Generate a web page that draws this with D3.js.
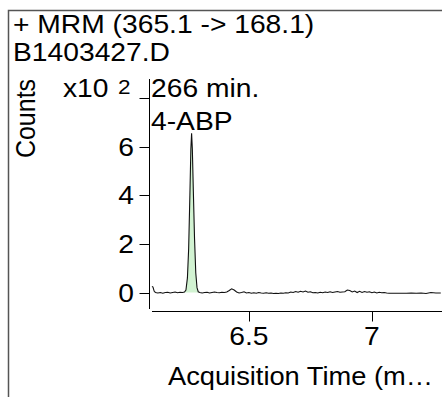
<!DOCTYPE html>
<html><head><meta charset="utf-8">
<script src="https://cdn.jsdelivr.net/npm/d3@7"></script>
<style>html,body{margin:0;padding:0;background:#fff;overflow:hidden}</style>
</head><body>
<svg id="c" width="442" height="397"></svg>
<script>
const titleLines = ["+ MRM (365.1 -> 168.1)", "B1403427.D"];
const peakLabels = ["266 min.", "4-ABP"];
const yAxisTitle = "Counts";
const xAxisTitle = "Acquisition Time (m\u2026";
const yTicks = [0, 2, 4, 6, 8];
const yTickLabels = ["0", "2", "4", "6", ""];
const xTicks = [6.5, 7];
const xTickLabels = ["6.5", "7"];
const times = [6.106,6.110,6.115,6.120,6.130,6.140,6.150,6.160,6.170,6.180,6.190,6.200,6.210,6.220,6.230,6.238,6.244,6.250,6.255,6.260,6.264,6.267,6.270,6.274,6.279,6.284,6.289,6.294,6.300,6.31,6.32,6.33,6.34,6.35,6.36,6.37,6.38,6.39,6.40,6.41,6.42,6.43,6.44,6.45,6.46,6.47,6.48,6.49,6.50,6.51,6.52,6.53,6.54,6.55,6.56,6.57,6.58,6.59,6.60,6.61,6.62,6.63,6.64,6.65,6.66,6.67,6.68,6.69,6.70,6.71,6.72,6.73,6.74,6.75,6.76,6.77,6.78,6.79,6.80,6.81,6.82,6.83,6.84,6.85,6.86,6.87,6.88,6.89,6.90,6.91,6.92,6.93,6.94,6.95,6.96,6.97,6.98,6.99,7.00,7.01,7.02,7.03,7.04,7.05,7.06,7.07,7.08,7.10,7.12,7.14,7.16,7.18,7.20,7.22,7.24,7.26,7.28];
const counts = [0.25,0.22,0.05,0.0,-0.02,0.0,-0.03,0.0,0.01,-0.02,0.0,0.02,-0.01,0.01,0.0,0.02,0.1,0.6,1.8,4.0,5.9,6.55,5.9,4.2,2.2,0.8,0.2,0.03,0.0,-0.02,0.0,0.01,-0.02,0.0,0.02,0.0,-0.01,0.01,0.0,0.02,0.08,0.15,0.1,0.02,-0.02,0.0,0.03,-0.02,0.0,-0.03,-0.01,-0.03,0.0,-0.02,-0.03,-0.01,-0.03,-0.02,-0.04,-0.03,-0.04,-0.02,-0.03,-0.01,-0.02,0.02,0.0,0.04,0.01,0.05,0.02,0.06,0.01,0.03,-0.01,0.0,-0.02,0.01,-0.01,0.02,0.0,0.03,0.0,0.02,0.04,0.01,0.02,0.03,0.1,0.08,0.02,0.06,0.0,0.05,0.0,0.04,0.01,0.03,-0.01,0.02,-0.02,0.01,-0.01,0.0,-0.02,-0.03,-0.03,-0.03,-0.03,-0.03,-0.02,-0.03,-0.02,-0.04,0.0,-0.02,-0.02];
const peakStart = 6.238, peakEnd = 6.294;

const FONT = "'Liberation Sans', Arial, sans-serif";
const SX = 1.13;
const svg = d3.select("#c");
const data = times.map((t, i) => ({t, v: counts[i]}));

const x = d3.scaleLinear().domain([6.106, 7.285]).range([152, 442]);
const y = d3.scaleLinear().domain([0, 8]).range([292.5, 98]);

// frame
svg.append("rect").attr("x", 8.5).attr("y", 10.5).attr("width", 480).attr("height", 420)
  .attr("fill", "none").attr("stroke", "#555").attr("stroke-width", 1.5);

function txt(s, xx, yy, size, anchor) {
  return svg.append("text").attr("transform", `translate(${xx},${yy}) scale(${SX},1)`)
    .attr("font-family", FONT).attr("font-size", size).attr("fill", "#000")
    .attr("text-anchor", anchor || "start").text(s);
}
titleLines.forEach((s, i) => txt(s, 13, 32.5 + i * 28, 25));

// fill under peak
const peakData = data.filter(d => d.t >= peakStart && d.t <= peakEnd);
svg.append("path").datum(peakData)
  .attr("d", d3.area().x(d => x(d.t)).y0(y(0)).y1(d => y(d.v)))
  .attr("fill", "#d2f3d2").attr("stroke", "none");
svg.append("path").datum(data)
  .attr("d", d3.line().x(d => x(d.t)).y(d => y(d.v)))
  .attr("fill", "none").attr("stroke", "#111").attr("stroke-width", 1.1);

// y axis
const yg = svg.append("g").attr("transform", "translate(149.5,0)");
yg.append("line").attr("x1", 0).attr("x2", 0).attr("y1", 79).attr("y2", 309).attr("stroke", "#000");
yTicks.forEach((v, i) => {
  yg.append("line").attr("x1", -10).attr("x2", 0).attr("y1", Math.round(y(v)) + 0.5).attr("y2", Math.round(y(v)) + 0.5).attr("stroke", "#000");
  if (yTickLabels[i]) txt(yTickLabels[i], 134, y(v) + 9, 25, "end");
});
txt("x10", 63, 97, 25);
txt("2", 118, 94, 20);

// x axis
const xg = svg.append("g").attr("transform", "translate(0,311.5)");
xg.append("line").attr("x1", 152).attr("x2", 442).attr("y1", 0).attr("y2", 0).attr("stroke", "#000");
xTicks.forEach((v, i) => {
  xg.append("line").attr("x1", Math.round(x(v)) + 0.5).attr("x2", Math.round(x(v)) + 0.5).attr("y1", 0).attr("y2", 10).attr("stroke", "#000");
  txt(xTickLabels[i], x(v), 345, 25, "middle");
});
txt(xAxisTitle, 168, 384.5, 25).attr("textLength", 265 / SX).attr("lengthAdjust", "spacingAndGlyphs");

// y title
svg.append("text").attr("transform", "translate(35,118.5) scale(" + SX + ",1) rotate(-90)")
  .attr("font-family", FONT).attr("font-size", 25).attr("text-anchor", "middle").text(yAxisTitle);

// peak labels
peakLabels.forEach((s, i) => txt(s, 151, 97 + i * 33, 25));
</script>
</body></html>
